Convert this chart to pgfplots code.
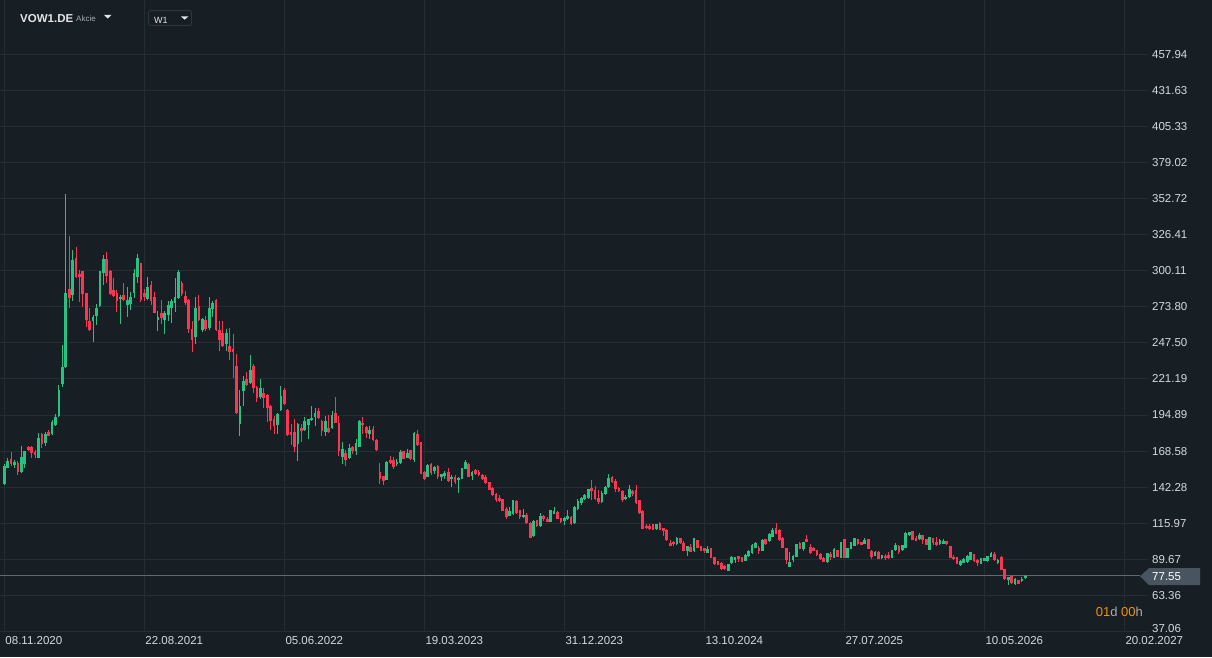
\documentclass[border=0pt]{standalone}
\usepackage{pgfplots}
\pgfplotsset{compat=1.18}
\usepackage{pgfplotstable}
\usepackage{fontspec}
\setmainfont{Liberation Sans}
\definecolor{bg}{RGB}{23,30,36}
\definecolor{gridc}{RGB}{36,45,52}
\definecolor{txt}{RGB}{214,218,222}
\definecolor{upc}{RGB}{38,194,129}
\definecolor{dnc}{RGB}{255,51,82}
\definecolor{tagc}{RGB}{72,85,96}
\definecolor{pricel}{RGB}{95,106,115}
\definecolor{orng}{RGB}{242,145,10}
\definecolor{dgray}{RGB}{165,172,178}
\definecolor{hdr}{RGB}{226,229,232}
\definecolor{boxc}{RGB}{44,54,61}

\pgfplotstableread{
x o h l c
0 144.9 159.1 144.0 157.8
1 156.6 163.4 155.9 161.3
3 158.3 162.2 156.4 160.3
5 153.0 172.5 152.5 164.4
6 159.3 169.0 155.9 168.6
10 163.9 181.7 163.5 178.1
12 174.2 182.7 172.5 181.0
14 180.7 191.2 180.3 190.0
15 187.3 195.8 187.0 193.7
16 194.4 217.0 193.2 213.4
17 217.8 246.3 215.1 230.2
18 229.7 355.9 229.3 283.5
20 282.1 314.9 277.9 307.6
26 263.1 267.7 248.0 266.0
27 267.0 275.5 260.4 272.6
28 274.3 300.0 273.5 299.6
29 298.6 311.3 289.9 308.4
34 279.4 282.6 261.1 281.3
36 274.8 287.9 266.0 279.1
37 275.7 284.5 271.8 280.6
38 284.0 301.1 280.1 298.1
39 295.5 312.0 291.1 309.1
42 279.4 295.2 279.0 288.6
45 264.0 271.1 256.0 266.7
47 264.0 271.1 253.8 269.2
48 267.7 277.9 263.3 274.8
49 273.1 279.6 261.9 277.7
50 276.9 295.0 269.9 280.6
51 280.1 300.3 279.8 298.9
56 251.6 280.6 246.5 272.6
58 256.7 265.5 255.3 265.0
60 258.7 280.6 257.2 272.6
61 272.1 277.7 266.7 276.9
65 247.0 257.9 241.4 255.0
69 188.0 213.4 179.3 201.7
70 212.2 223.6 201.2 219.9
72 218.0 238.9 217.8 228.0
75 207.8 221.4 206.3 214.8
80 187.3 196.3 180.7 195.6
81 198.3 216.3 197.8 209.0
86 173.4 188.8 161.7 188.3
88 183.9 193.6 183.4 190.5
89 187.3 192.2 177.1 191.9
90 191.0 201.2 190.7 192.9
91 193.6 199.7 186.6 196.6
94 182.2 194.4 179.3 190.7
96 185.1 198.0 184.8 195.1
99 164.4 175.4 159.5 170.0
101 163.6 174.1 162.9 170.7
103 169.0 177.5 165.6 174.6
104 171.9 191.4 171.5 190.7
107 181.4 187.0 177.5 184.1
112 147.8 161.0 147.5 160.7
115 158.8 162.6 158.0 160.5
116 159.7 169.2 159.2 168.0
118 163.9 170.0 163.4 167.0
120 162.2 182.6 160.7 181.9
124 150.0 159.2 149.6 158.5
126 154.1 157.8 151.9 157.0
128 150.0 152.2 146.8 151.7
129 150.7 154.4 148.0 152.7
131 148.0 151.0 142.4 149.5
133 147.3 149.7 138.0 149.3
134 148.3 156.3 148.0 156.1
135 155.8 162.2 155.5 160.7
137 150.7 154.4 147.5 153.4
148 121.5 127.6 121.2 124.9
149 122.7 133.2 122.2 132.9
152 120.2 126.3 119.7 122.1
155 106.5 118.2 106.2 117.7
157 113.6 123.3 113.3 121.4
160 117.2 125.8 116.9 125.5
161 122.8 127.7 122.6 125.0
164 117.7 120.2 114.8 119.7
165 118.7 125.8 118.4 121.4
167 115.8 128.7 115.5 128.0
168 126.5 134.0 125.5 131.9
169 130.9 135.3 129.4 134.5
170 134.0 137.5 133.1 136.2
171 134.5 141.2 133.6 141.1
175 131.1 139.4 130.8 138.2
176 137.2 142.8 136.9 142.6
177 142.1 152.1 141.8 148.9
182 133.3 136.2 132.6 135.3
183 135.0 143.8 134.7 141.1
191 111.4 115.7 110.9 115.5
197 100.7 106.0 100.3 105.5
200 96.0 99.4 92.4 99.2
202 95.5 105.5 95.3 105.3
206 94.5 99.4 94.3 97.2
212 81.4 86.4 81.1 86.3
213 86.8 92.1 86.5 91.4
214 89.2 91.6 87.2 91.4
217 88.7 93.8 88.4 93.1
218 91.9 96.2 91.4 96.0
219 94.3 100.9 93.8 100.4
220 98.2 102.3 98.0 101.6
222 96.0 104.3 95.8 103.8
224 103.1 108.7 102.6 108.2
225 106.2 112.3 105.8 111.1
230 84.3 95.0 84.1 87.7
231 89.2 92.6 88.0 92.1
232 91.6 101.1 91.4 100.9
234 97.5 102.5 96.0 102.3
241 87.5 94.2 87.3 94.1
243 90.9 97.7 90.7 97.5
245 90.9 102.5 90.7 102.3
247 90.9 97.9 90.7 97.7
248 97.5 102.3 97.0 102.1
249 99.4 105.2 99.2 105.0
252 100.9 105.3 100.6 104.0
255 92.4 96.0 92.1 95.0
257 90.9 93.1 90.2 92.6
260 90.9 96.4 90.6 96.3
261 96.3 101.6 95.8 100.4
263 96.3 100.3 95.8 100.1
264 98.2 109.4 97.9 108.9
265 107.2 109.6 106.7 109.4
268 104.3 108.7 103.8 107.2
271 96.7 106.0 96.5 105.7
274 100.6 104.3 100.1 103.6
275 101.1 104.5 100.9 103.1
280 85.3 89.2 85.0 88.7
281 87.2 90.9 87.0 90.2
282 87.5 93.1 87.2 92.1
283 89.2 95.2 88.9 95.0
286 86.3 90.9 86.0 90.6
287 88.7 90.6 88.5 90.4
288 88.2 92.1 88.0 91.9
289 91.6 94.8 91.4 94.3
291 87.2 90.2 86.0 88.9
294 74.6 76.7 71.2 76.5
296 71.4 75.7 71.2 75.5
298 73.8 76.5 72.9 75.5
299 76.0 78.2 75.5 77.55
}\upcandles

\pgfplotstableread{
x o h l c
2 162.7 168.1 157.4 158.8
4 159.8 161.3 151.5 153.0
7 171.5 172.5 168.3 169.5
8 171.5 172.0 163.9 166.9
9 168.1 169.5 163.2 165.9
11 181.0 181.7 170.8 173.4
13 182.7 183.7 179.3 179.5
19 286.9 325.2 272.8 280.1
21 309.1 317.1 294.7 295.5
22 297.4 300.3 277.2 295.5
23 299.6 300.0 273.5 283.0
24 283.5 284.0 258.9 264.0
25 263.1 272.6 256.0 257.2
30 308.4 313.7 291.3 296.2
31 299.6 300.6 282.6 283.0
32 285.7 294.5 281.3 281.6
33 284.0 285.7 269.9 277.9
35 282.1 290.8 277.9 278.7
40 305.5 306.0 277.0 278.7
41 283.5 286.5 277.9 280.8
43 289.4 292.3 275.0 278.2
44 281.3 284.3 269.0 269.2
46 269.2 278.4 261.4 265.7
52 290.8 292.3 281.6 283.0
53 281.8 285.5 274.8 276.5
54 279.1 279.6 254.5 257.9
55 257.9 263.1 240.7 249.4
57 274.5 282.1 263.8 264.5
59 264.3 267.4 256.0 257.9
62 279.1 279.6 255.8 257.2
63 257.2 263.8 241.6 249.4
64 255.0 263.8 244.6 245.0
66 245.5 258.7 235.3 240.7
67 243.3 254.3 221.7 240.7
68 230.7 239.7 195.8 196.1
71 221.4 226.5 215.8 216.5
73 230.7 232.4 210.9 214.3
74 215.6 216.3 204.1 207.0
76 211.2 214.8 199.7 207.0
77 209.5 210.0 190.0 200.2
78 201.4 201.9 184.1 190.5
79 191.9 194.4 181.2 187.1
82 213.1 214.8 202.4 202.9
83 198.5 199.0 179.5 180.0
84 182.4 188.5 172.7 180.0
85 182.4 192.2 167.6 171.5
87 185.4 188.3 174.9 182.9
92 198.0 200.2 192.2 192.4
93 190.5 190.9 179.3 182.9
95 185.4 195.1 182.0 182.2
97 196.6 208.3 189.0 189.3
98 189.3 193.9 164.9 168.3
100 167.0 169.5 158.0 162.4
102 171.9 172.1 166.5 168.3
105 189.2 193.6 181.4 187.3
106 186.3 186.7 177.8 182.1
108 184.8 186.8 175.6 176.3
109 176.8 177.2 169.0 169.5
110 153.4 160.0 144.9 148.5
111 150.2 150.6 143.9 147.1
113 162.2 165.1 159.2 160.2
114 162.2 164.4 155.6 157.3
117 168.5 168.9 162.6 163.1
119 169.2 169.5 162.2 162.6
121 180.9 183.8 172.1 173.1
122 175.1 175.5 152.0 152.2
123 153.6 154.0 147.5 148.3
125 159.0 159.7 151.4 152.4
127 157.5 158.3 148.3 149.7
130 153.4 156.1 145.8 147.1
132 149.7 151.0 144.6 146.3
136 159.2 159.6 149.4 149.7
138 154.9 155.8 151.4 152.2
139 153.6 155.1 150.2 151.0
140 151.2 151.9 147.3 148.5
141 149.5 151.4 144.4 145.4
142 145.8 146.2 140.2 140.5
143 141.5 142.2 136.1 136.8
144 137.1 137.8 131.7 132.9
145 134.2 136.6 131.7 132.2
146 133.7 134.0 124.9 125.1
147 126.4 127.6 119.3 120.8
150 132.3 132.7 122.6 123.6
151 125.5 125.9 118.7 120.7
153 122.1 123.3 115.6 115.8
154 116.3 116.6 105.3 105.5
156 118.2 118.5 113.3 114.3
158 121.6 121.9 117.5 118.7
159 119.2 120.2 116.5 117.0
162 124.3 124.6 119.2 119.4
163 119.7 120.0 116.3 116.5
166 120.7 121.0 115.0 115.1
172 141.8 147.7 133.1 139.2
173 140.4 143.1 133.1 133.6
174 134.5 139.9 130.2 131.6
178 149.6 150.6 145.5 146.0
179 147.0 148.2 138.4 140.6
180 141.8 142.1 138.7 139.2
181 139.6 140.4 131.6 132.6
184 139.6 140.0 136.0 137.5
185 140.4 143.8 130.2 130.4
186 132.8 133.2 122.8 123.6
187 125.0 125.4 112.0 112.1
188 114.1 115.1 111.6 112.4
189 113.6 115.3 111.2 111.4
190 115.1 115.4 111.0 111.2
192 116.3 116.6 110.7 110.9
193 112.4 112.6 106.8 110.2
194 111.2 111.5 103.2 103.4
195 101.9 103.6 99.0 99.7
196 102.4 102.9 99.0 100.7
198 105.1 105.4 100.7 101.2
199 101.4 103.3 95.5 96.0
201 98.7 100.6 95.1 95.3
203 103.8 104.1 98.0 98.2
204 99.2 99.4 95.5 96.0
205 97.7 98.2 94.5 95.5
207 98.0 98.2 90.8 90.9
208 91.4 91.6 85.3 86.0
209 88.2 88.5 85.3 85.8
210 87.0 87.5 82.1 82.6
211 85.0 85.3 81.9 82.6
215 91.9 92.4 87.7 89.9
216 91.4 91.6 87.9 88.0
221 97.7 99.7 93.8 95.8
223 104.3 104.8 100.4 100.9
226 112.6 116.2 107.9 108.2
227 111.1 111.4 102.8 103.6
228 105.3 105.6 98.1 98.2
229 98.0 98.2 86.3 89.4
233 101.9 102.3 97.0 97.5
235 104.5 107.7 102.3 102.6
236 98.9 100.9 93.8 94.5
237 98.2 98.4 95.5 96.0
238 96.5 96.7 92.4 92.6
239 93.8 94.3 89.5 89.7
240 90.9 91.4 87.5 88.0
242 93.8 95.0 89.4 91.6
244 96.3 96.5 91.5 91.6
246 104.3 104.8 90.7 90.9
250 104.5 104.8 100.4 100.9
251 102.3 102.6 100.2 100.4
253 104.3 104.6 97.3 97.5
254 95.8 96.5 90.2 91.6
256 95.3 95.5 90.0 90.2
258 92.1 93.3 89.4 90.4
259 93.1 95.0 89.7 90.9
262 99.4 100.1 93.6 95.3
266 110.1 110.4 103.8 104.0
267 105.5 106.7 103.1 103.3
269 107.5 107.7 100.9 103.8
270 104.5 104.8 100.2 100.4
272 105.0 105.3 99.9 101.6
273 102.3 105.7 99.2 99.9
276 103.1 103.3 99.9 101.1
277 99.4 99.7 90.7 90.9
278 91.1 93.1 89.2 89.7
279 91.4 91.6 86.3 86.5
284 93.3 93.6 87.5 88.2
285 89.4 89.7 85.0 87.0
290 93.6 95.0 88.5 88.9
292 91.6 92.1 81.5 81.6
293 82.4 82.6 74.6 75.5
295 77.3 78.0 71.7 72.1
297 74.6 74.8 71.4 71.9
}\dncandles

\begin{document}
\begin{tikzpicture}
\fill[bg] (0,0) rectangle (1212pt,657pt);
\useasboundingbox (0,0) rectangle (1212pt,657pt);
\begin{axis}[
  at={(0pt,25pt)}, anchor=south west,
  scale only axis, width=1148pt, height=632pt,
  xmin=-1.259, xmax=334.94, ymin=36.64, ymax=497.54,
  axis line style={draw=none},
  major tick length=0pt,
  tick style={draw=none},
  xtick={0,41,82,123,164,205,246,287,328},
  xticklabels={08.11.2020,22.08.2021,05.06.2022,19.03.2023,31.12.2023,13.10.2024,27.07.2025,10.05.2026,20.02.2027},
  xticklabel style={anchor=north west, inner sep=0pt, xshift=1pt, yshift=-3.8pt, font=\fontsize{11.5}{13}\selectfont, text=txt},
  ytick={457.94,431.63,405.33,379.02,352.72,326.41,300.11,273.80,247.50,221.19,194.89,168.58,142.28,115.97,89.67,63.36},
  yticklabels={457.94,431.63,405.33,379.02,352.72,326.41,300.11,273.80,247.50,221.19,194.89,168.58,142.28,115.97,89.67,63.36},
  yticklabel pos=right,
  yticklabel style={anchor=west, inner sep=0pt, xshift=4pt, font=\fontsize{11.5}{13}\selectfont, text=txt},
  extra y ticks={37.06},
  extra y tick labels={37.06},
  extra y tick style={grid=major, yticklabel style={yshift=2.6pt}},
  grid=major,
  major grid style={draw=gridc, line width=1pt},
  clip=false,
  every axis plot post/.append style={mark=none},
]
% current price line
\addplot[draw=pricel, line width=1pt, forget plot] coordinates {(-1.259,77.55) (332.6,77.55)};
% wicks
\addplot[draw=none, mark=none, forget plot,
  error bars/.cd, y dir=plus, y explicit, error mark=none,
  error bar style={draw=upc, line width=1pt}]
  table[x=x, y=l, y error expr=\thisrow{h}-\thisrow{l}] {\upcandles};
\addplot[draw=none, mark=none, forget plot,
  error bars/.cd, y dir=plus, y explicit, error mark=none,
  error bar style={draw=dnc, line width=1pt}]
  table[x=x, y=l, y error expr=\thisrow{h}-\thisrow{l}] {\dncandles};
% bodies
\addplot[draw=none, mark=none, forget plot,
  error bars/.cd, y dir=plus, y explicit, error mark=none,
  error bar style={draw=upc, line width=2.7pt}]
  table[x=x, y=o, y error expr=\thisrow{c}-\thisrow{o}] {\upcandles};
\addplot[draw=none, mark=none, forget plot,
  error bars/.cd, y dir=plus, y explicit, error mark=none,
  error bar style={draw=dnc, line width=2.7pt}]
  table[x=x, y=c, y error expr=\thisrow{o}-\thisrow{c}] {\dncandles};
\end{axis}
% price tag
\fill[tagc] (1140pt,80.7pt) -- (1149pt,88.8pt) -- (1200pt,88.8pt) -- (1200pt,72pt) -- (1149pt,72pt) -- cycle;
\node[anchor=west, inner sep=0pt, font=\fontsize{11.5}{13}\selectfont, text=white] at (1152pt,80.5pt) {77.55};
% countdown
\node[anchor=base east, inner sep=0pt, font=\fontsize{13}{15}\selectfont] at (1143pt,41pt) {\textcolor{orng}{01}\textcolor{dgray}{d} \textcolor{orng}{00}\textcolor{dgray}{h}};
% header
\node[anchor=base west, inner sep=0pt, font=\bfseries\fontsize{11.5}{13}\selectfont, text=hdr] at (20pt,634.7pt) {VOW1.DE};
\node[anchor=base west, inner sep=0pt, font=\fontsize{8}{9}\selectfont, text=dgray] at (76pt,635pt) {Akcie};
\fill[hdr] (104pt,642pt) -- (111.5pt,642pt) -- (107.75pt,638.5pt) -- cycle;
\draw[boxc, line width=1pt, rounded corners=2pt] (148.5pt,631.7pt) rectangle (191.5pt,646.3pt);
\node[anchor=base west, inner sep=0pt, font=\fontsize{9}{11}\selectfont, text=hdr] at (154pt,633.8pt) {W1};
\fill[hdr] (181pt,640.5pt) -- (188.3pt,640.5pt) -- (184.65pt,637.3pt) -- cycle;
\end{tikzpicture}
\end{document}
